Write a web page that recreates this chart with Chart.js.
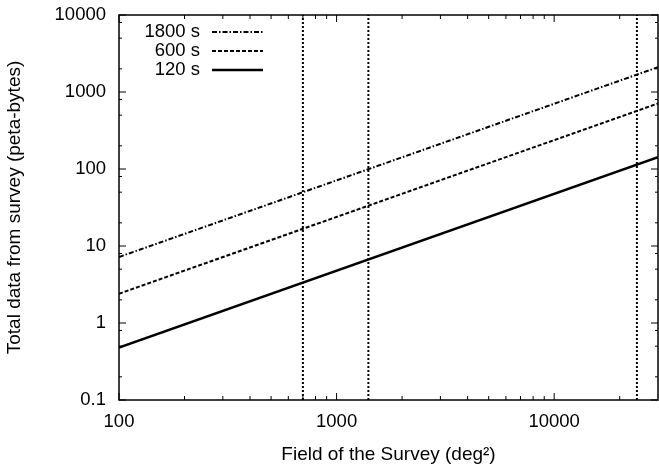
<!DOCTYPE html>
<html>
<head>
<meta charset="utf-8">
<script src="https://cdn.jsdelivr.net/npm/chart.js@4"></script>
<style>
  body { margin: 0; background: #fff; }
  canvas { display: block; }
</style>
</head>
<body>
<canvas id="chart" width="659" height="466"></canvas>
<script>
// survey field (deg^2) at the two ends of each line
const fieldEnds = [100, 30000];
// total data (peta-bytes) for each exposure time
const data1800 = [7.2, 2100];
const data600 = [2.4, 710];
const data120 = [0.48, 142];
const seriesLabels = ["1800 s", "600 s", "120 s"];
// vertical marker lines (deg^2)
const markerFields = [700, 1400, 24000];
const xTicks = [100, 1000, 10000];
const yTicks = [0.1, 1, 10, 100, 1000, 10000];

const FONT = "'Liberation Sans', Arial, Helvetica, sans-serif";

function pts(ys) {
  return fieldEnds.map((x, i) => ({ x: x, y: ys[i] }));
}

const datasets = [
  { label: seriesLabels[0], data: pts(data1800), borderDash: [5, 2, 1.5, 2], borderWidth: 2 },
  { label: seriesLabels[1], data: pts(data600), borderDash: [4, 2], borderWidth: 2 },
  { label: seriesLabels[2], data: pts(data120), borderDash: [], borderWidth: 2.5 }
];
markerFields.forEach((f) => {
  datasets.push({
    label: "",
    data: [{ x: f, y: yTicks[0] }, { x: f, y: yTicks[yTicks.length - 1] }],
    borderDash: [2, 2],
    borderWidth: 2
  });
});
datasets.forEach((d) => {
  d.borderColor = "#000";
  d.pointRadius = 0;
  d.fill = false;
  d.tension = 0;
});

// gnuplot style frame with inward ticks on all four sides
const framePlugin = {
  id: "frame",
  afterDatasetsDraw(chart) {
    const { ctx, chartArea: a, scales: { x, y } } = chart;
    ctx.save();
    ctx.strokeStyle = "#000";
    ctx.setLineDash([]);
    ctx.lineWidth = 1;
    const tick = (px, isX, len) => {
      ctx.beginPath();
      if (isX) {
        ctx.moveTo(px, a.bottom); ctx.lineTo(px, a.bottom - len);
        ctx.moveTo(px, a.top); ctx.lineTo(px, a.top + len);
      } else {
        ctx.moveTo(a.left, px); ctx.lineTo(a.left + len, px);
        ctx.moveTo(a.right, px); ctx.lineTo(a.right - len, px);
      }
      ctx.stroke();
    };
    xTicks.forEach((d) => {
      tick(x.getPixelForValue(d), true, 7);
      for (let m = 2; m <= 9; m++) {
        const v = d * m;
        if (v < x.max) tick(x.getPixelForValue(v), true, 4);
      }
    });
    yTicks.forEach((d) => {
      tick(y.getPixelForValue(d), false, 7);
      [2, 5, 8].forEach((m) => {
        const v = d * m;
        if (v < y.max) tick(y.getPixelForValue(v), false, 3);
      });
    });
    ctx.lineWidth = 1.5;
    ctx.strokeRect(a.left, a.top, a.right - a.left, a.bottom - a.top);

    // key in the top left corner: text then line sample
    ctx.font = "18.5px " + FONT;
    ctx.fillStyle = "#000";
    ctx.textAlign = "right";
    ctx.textBaseline = "middle";
    for (let i = 0; i < 3; i++) {
      const ds = chart.data.datasets[i];
      const yy = a.top + 17 + i * 19;
      ctx.fillText(ds.label, 200, yy);
      ctx.setLineDash(ds.borderDash);
      ctx.lineWidth = ds.borderWidth;
      ctx.beginPath();
      ctx.moveTo(212, yy);
      ctx.lineTo(263, yy);
      ctx.stroke();
    }
    ctx.restore();
  }
};

new Chart(document.getElementById("chart"), {
  type: "line",
  data: { datasets: datasets },
  options: {
    responsive: false,
    animation: false,
    devicePixelRatio: 1,
    layout: { padding: { top: 15, right: 1, left: 0, bottom: 0 } },
    plugins: { legend: { display: false }, tooltip: { enabled: false } },
    scales: {
      x: {
        type: "logarithmic",
        min: 100,
        max: 30000,
        grid: { display: false },
        border: { display: false },
        afterBuildTicks: (s) => { s.ticks = xTicks.map((v) => ({ value: v })); },
        afterFit: (s) => { s.height = 66; s.paddingLeft = 0; s.paddingRight = 0; },
        ticks: {
          color: "#000",
          font: { family: FONT, size: 18.5 },
          padding: 3,
          maxRotation: 0,
          autoSkip: false,
          callback: (v) => String(v)
        },
        title: {
          display: true,
          text: "Field of the Survey (deg²)",
          color: "#000",
          font: { family: FONT, size: 19 },
          padding: 0
        }
      },
      y: {
        type: "logarithmic",
        min: 0.1,
        max: 10000,
        grid: { display: false },
        border: { display: false },
        afterBuildTicks: (s) => { s.ticks = yTicks.map((v) => ({ value: v })); },
        afterFit: (s) => { s.width = 119; s.paddingTop = 0; s.paddingBottom = 0; },
        ticks: {
          color: "#000",
          font: { family: FONT, size: 18.5 },
          padding: 5,
          autoSkip: false,
          callback: (v) => String(v)
        },
        title: {
          display: true,
          text: "Total data from survey (peta-bytes)",
          color: "#000",
          font: { family: FONT, size: 19 },
          padding: 3
        }
      }
    }
  },
  plugins: [framePlugin]
});
</script>
</body>
</html>
